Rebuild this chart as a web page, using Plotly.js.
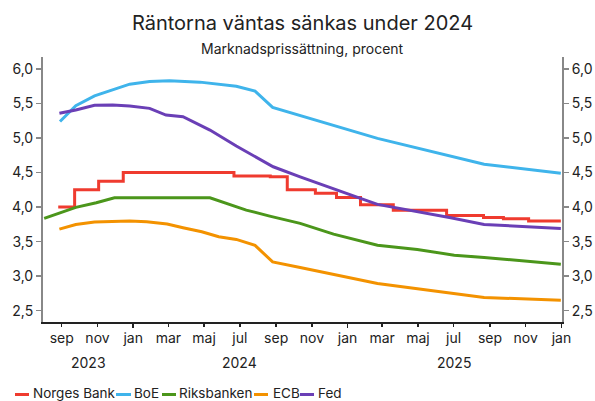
<!DOCTYPE html>
<html>
<head>
<meta charset="utf-8">
<script src="https://cdn.plot.ly/plotly-3.0.1.min.js"></script>
<style>html,body{margin:0;padding:0;background:#fff;}#chart{width:595px;height:401px;}</style>
</head>
<body>
<div id="chart"></div>
<script>
// ---------- data ----------
const seriesNames = ["Norges Bank", "BoE", "Riksbanken", "ECB", "Fed"];

const nbDates = ["2023-08-26","2023-09-23","2023-11-03","2023-12-15","2024-06-21","2024-08-22","2024-09-20","2024-11-07","2024-12-13","2025-01-23","2025-03-20","2025-06-19","2025-08-21","2025-09-24","2025-11-06","2025-12-31"];
const nbValues = [4.00,4.25,4.375,4.50,4.45,4.44,4.25,4.20,4.14,4.035,3.955,3.88,3.85,3.83,3.80,3.80];

const boeDates = ["2023-08-29","2023-09-25","2023-10-27","2023-12-26","2024-01-29","2024-03-03","2024-04-24","2024-06-25","2024-07-27","2024-08-26","2025-02-21","2025-08-22","2025-12-31"];
const boeValues = [5.24,5.47,5.61,5.78,5.82,5.83,5.81,5.75,5.68,5.445,4.995,4.62,4.49];

const rbDates = ["2023-08-02","2023-09-25","2023-10-30","2023-11-30","2024-05-11","2024-07-12","2024-08-21","2024-10-12","2024-12-08","2025-02-21","2025-04-30","2025-07-02","2025-08-22","2025-12-31"];
const rbValues = [3.836,3.996,4.063,4.135,4.135,3.957,3.87,3.764,3.609,3.449,3.387,3.304,3.271,3.174];

const ecbDates = ["2023-08-28","2023-09-25","2023-10-27","2023-12-26","2024-01-24","2024-02-28","2024-03-26","2024-04-27","2024-05-26","2024-06-25","2024-07-27","2024-08-26","2024-10-12","2025-02-21","2025-08-22","2025-12-31"];
const ecbValues = [3.681,3.749,3.783,3.797,3.787,3.754,3.70,3.642,3.57,3.532,3.445,3.207,3.126,2.894,2.691,2.652];

const fedDates = ["2023-08-28","2023-09-25","2023-10-27","2023-11-27","2023-12-26","2024-01-29","2024-02-26","2024-03-26","2024-05-11","2024-06-25","2024-08-27","2024-10-12","2025-01-23","2025-02-21","2025-06-26","2025-08-22","2025-12-31"];
const fedValues = [5.358,5.406,5.474,5.478,5.464,5.43,5.333,5.31,5.116,4.884,4.584,4.439,4.126,4.039,3.845,3.749,3.69];

const monthTickVals = ["2023-09-01","2023-11-01","2024-01-01","2024-03-01","2024-05-01","2024-07-01","2024-09-01","2024-11-01","2025-01-01","2025-03-01","2025-05-01","2025-07-01","2025-09-01","2025-11-01","2026-01-01"];
const monthTickText = ["sep","nov","jan","mar","maj","jul","sep","nov","jan","mar","maj","jul","sep","nov","jan"];
const yearTickVals = ["2024-01-01","2025-01-01","2026-01-01"];
const yearLabels = ["2023","2024","2025"];
const yearLabelPos = ["2023-10-16","2024-07-01","2025-07-02"];

const yTickVals = [2.5,3.0,3.5,4.0,4.5,5.0,5.5,6.0];

const titleText = "Räntorna väntas sänkas under 2024";
const subtitleText = "Marknadsprissättning, procent";

// ---------- styling ----------
const colors = ["#ef3b2f","#3fb4eb","#4b961b","#f39200","#6a3fb6"];
const FONT = "Inter, 'DejaVu Sans', sans-serif";
const TXT = "#222";
const xRange = ["2023-07-31","2026-01-02"];
const yRange = [2.336, 6.174];

const W = 595, H = 401, mL = 43, mR = 33, mT = 57, mB = 79;
const pw = W - mL - mR, ph = H - mT - mB;
const px2paper = x => (x - mL) / pw;
const py2paper = y => (H - mB - y) / ph;

const seriesX = [nbDates, boeDates, rbDates, ecbDates, fedDates];
const seriesY = [nbValues, boeValues, rbValues, ecbValues, fedValues];

const traces = seriesNames.map((n, i) => ({
  type: "scatter", mode: "lines", name: n,
  x: seriesX[i], y: seriesY[i],
  line: {color: colors[i], width: 3, shape: i === 0 ? "hv" : "linear"},
  showlegend: false, hoverinfo: "skip"
}));
// invisible copy so the secondary (right y / jan tick) axes get drawn
traces.push({
  type: "scatter", mode: "lines", x: fedDates, y: fedValues,
  xaxis: "x2", yaxis: "y2", opacity: 0, line: {width: 0},
  showlegend: false, hoverinfo: "skip"
});

// custom legend (short samples like the reference)
const legLineX = [[15,29],[116,131],[162,176],[254,268],[300,314]];
const legTextX = [32,133,178,272,317];
const legY = 393;
const shapes = [];
const annotations = [];
seriesNames.forEach((n, i) => {
  shapes.push({type:"line", xref:"paper", yref:"paper",
    x0: px2paper(legLineX[i][0]), x1: px2paper(legLineX[i][1]),
    y0: py2paper(legY+1.5), y1: py2paper(legY+1.5),
    line:{color: colors[i], width: 3}});
  annotations.push({xref:"paper", yref:"paper", x: px2paper(legTextX[i]), y: py2paper(legY),
    xanchor:"left", yanchor:"middle", showarrow:false, text:n, borderpad:0,
    font:{family:FONT, size:13.5, color:TXT}});
});
yearLabels.forEach((t, i) => {
  annotations.push({xref:"x", yref:"paper", x: yearLabelPos[i], y: py2paper(362),
    xanchor:"center", yanchor:"middle", showarrow:false, text:t,
    font:{family:FONT, size:14, color:TXT}});
});
annotations.push({xref:"paper", yref:"paper", x: 0.5, y: py2paper(48),
  xanchor:"center", yanchor:"middle", showarrow:false, text: subtitleText,
  font:{family:FONT, size:14, color:TXT}});

const yAxisCommon = {
  range: yRange, tickvals: yTickVals, tickformat: ".1f",
  ticks: "outside", ticklen: 5, tickwidth: 1.5, tickcolor: "#888",
  showline: true, linecolor: "#888", linewidth: 2,
  showgrid: false, zeroline: false, fixedrange: true,
  tickfont: {family: FONT, size: 14, color: TXT}
};

const layout = {
  width: W, height: H,
  margin: {l: mL, r: mR, t: mT, b: mB, pad: 0},
  paper_bgcolor: "#fff", plot_bgcolor: "#fff",
  separators: ", ",
  font: {family: FONT, color: TXT},
  title: {
    text: titleText,
    font: {family: FONT, size: 20, color: TXT},
    x: 0.5, xref: "paper", y: 1 - 23/H, yref: "container", yanchor: "middle"
  },
  xaxis: {
    type: "date", range: xRange,
    tickvals: monthTickVals, ticktext: monthTickText,
    ticks: "outside", ticklen: 3, tickwidth: 1.5, tickcolor: "#222",
    showline: true, linecolor: "#222", linewidth: 1.5,
    showgrid: false, zeroline: false, fixedrange: true,
    tickfont: {family: FONT, size: 14, color: TXT}
  },
  xaxis2: {
    type: "date", range: xRange, overlaying: "x", anchor: "y", side: "bottom",
    tickvals: yearTickVals, showticklabels: false,
    ticks: "outside", ticklen: 5, tickwidth: 1.5, tickcolor: "#222",
    showline: false, showgrid: false, zeroline: false, fixedrange: true
  },
  yaxis: Object.assign({}, yAxisCommon, {side: "left"}),
  yaxis2: Object.assign({}, yAxisCommon, {side: "right", overlaying: "y", anchor: "x"}),
  shapes: shapes,
  annotations: annotations,
  showlegend: false
};

Plotly.newPlot("chart", traces, layout, {displayModeBar: false, staticPlot: true});
</script>
</body>
</html>
